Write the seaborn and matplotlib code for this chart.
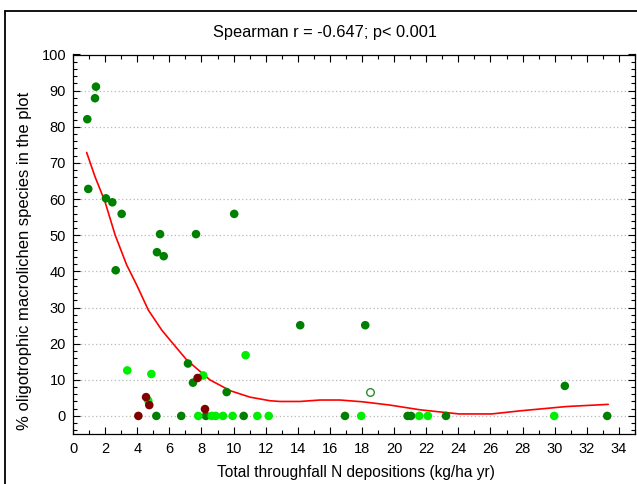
import matplotlib
matplotlib.use("Agg")
import matplotlib.pyplot as plt
from matplotlib.lines import Line2D
from matplotlib.ticker import MultipleLocator
import seaborn as sns
import pandas as pd

# ---- data ----
dark_x = [1.43, 1.37, 0.89, 0.95, 2.05, 2.45, 3.03, 10.04, 5.42, 7.66, 5.23, 5.65, 2.66,
          14.15, 18.2, 7.16, 7.47, 9.57, 30.63,
          5.19, 6.74, 8.28, 10.63, 16.94, 20.84, 21.05, 23.23, 33.27]
dark_y = [91.1, 87.9, 82.1, 62.8, 60.2, 59.1, 55.9, 55.9, 50.3, 50.3, 45.3, 44.2, 40.3,
          25.1, 25.1, 14.5, 9.2, 6.6, 8.3,
          0, 0, 0, 0, 0, 0, 0, 0, 0]
light_x = [3.38, 4.88, 10.75, 8.11, 4.69,
           7.80, 8.64, 8.89, 9.34, 9.94, 11.48, 12.19, 17.95, 21.56, 22.10, 29.97]
light_y = [12.6, 11.6, 16.8, 11.2, 4.2,
           0, 0, 0, 0, 0, 0, 0, 0, 0, 0, 0]
red_x = [7.76, 4.55, 4.75, 8.22, 4.07]
red_y = [10.5, 5.2, 3.0, 1.9, 0]
hollow_x = [18.49]
hollow_y = [6.6]

curve_x = [0.85, 1.37, 1.99, 2.62, 3.34, 3.97, 4.69, 5.52, 6.04, 7.08, 8.52, 9.78, 11.02,
           12.27, 12.89, 14.13, 15.38, 16.63, 18.06, 19.74, 21.61, 22.23, 24.05, 26.07,
           27.83, 30.74, 33.33]
curve_y = [72.9, 66.2, 59.3, 50.1, 41.8, 36.2, 29.3, 23.8, 21.0, 15.5, 10.0, 7.0, 5.2,
           4.2, 4.0, 4.0, 4.4, 4.4, 3.9, 3.0, 1.7, 1.4, 0.55, 0.55,
           1.4, 2.6, 3.2]

x_ticks = list(range(0, 35, 2))
y_ticks = list(range(0, 101, 10))

title = "Spearman r = -0.647; p< 0.001"
x_label = "Total throughfall N depositions (kg/ha yr)"
y_label = "% oligotrophic macrolichen species in the plot"

# ---- build table ----
groups = (["dark"] * len(dark_x) + ["light"] * len(light_x) + ["red"] * len(red_x))
df = pd.DataFrame({
    "x": dark_x + light_x + red_x,
    "y": dark_y + light_y + red_y,
    "group": groups,
})
palette = {"dark": "#008000", "light": "#00EE00", "red": "#800000"}

sns.set_theme(style="white")
plt.rcParams["font.family"] = ["Liberation Sans", "DejaVu Sans"]
plt.rcParams["text.color"] = "black"
plt.rcParams["axes.labelcolor"] = "black"

fig = plt.figure(figsize=(6.37, 4.84), dpi=100)
ax = fig.add_axes([73 / 637, 1 - 434 / 484, (635 - 73) / 637, (434 - 54.5) / 484])

ax.yaxis.grid(True, color="#b8b8b8", linestyle=(0, (1, 2)), linewidth=0.9)
ax.xaxis.grid(False)
ax.set_axisbelow(True)

sns.lineplot(x=curve_x, y=curve_y, ax=ax, color="red", linewidth=1.2,
             sort=False, estimator=None, zorder=2)
sns.scatterplot(data=df, x="x", y="y", hue="group", palette=palette, ax=ax,
                s=38, linewidth=0, legend=False, zorder=3)
sns.scatterplot(x=hollow_x, y=hollow_y, ax=ax, s=30, facecolor="white",
                edgecolor="#2e8b2e", linewidth=1.0, zorder=3)

ax.set_xlim(0, 35)
ax.set_ylim(-5, 100)
ax.set_xticks(x_ticks)
ax.set_xticklabels([str(t) for t in x_ticks])
ax.set_yticks(y_ticks)
ax.set_yticklabels([str(t) for t in y_ticks])
ax.xaxis.set_minor_locator(MultipleLocator(1))
ax.yaxis.set_minor_locator(MultipleLocator(2))
ax.tick_params(which="both", direction="in", top=True, right=True, bottom=True, left=True,
               colors="black", labelcolor="black", labelsize=10.5)
ax.tick_params(which="major", length=5, width=0.8)
ax.tick_params(which="minor", length=3, width=0.8)
ax.tick_params(axis="x", which="major", pad=6)
ax.tick_params(axis="y", which="major", pad=5)
for s in ax.spines.values():
    s.set_color("black")
    s.set_linewidth(0.9)

ax.set_xlabel("")
ax.set_ylabel("")
fig.text(356 / 637, 1 - 472 / 484, x_label, ha="center", va="center", fontsize=11.2)
fig.text(25 / 637, 1 - 261 / 484, y_label, ha="center", va="center", rotation=90,
         fontsize=12)
fig.text(325 / 637, 1 - 33 / 484, title, ha="center", va="center", fontsize=11.8)

# figure frame (left and top edges visible)
fig.add_artist(Line2D([5 / 637, 5 / 637], [0, 1 - 11 / 484], transform=fig.transFigure,
                      color="black", linewidth=1.3))
fig.add_artist(Line2D([5 / 637, 1], [1 - 11 / 484, 1 - 11 / 484], transform=fig.transFigure,
                      color="black", linewidth=1.3))

fig.savefig("out.png", dpi=100)
